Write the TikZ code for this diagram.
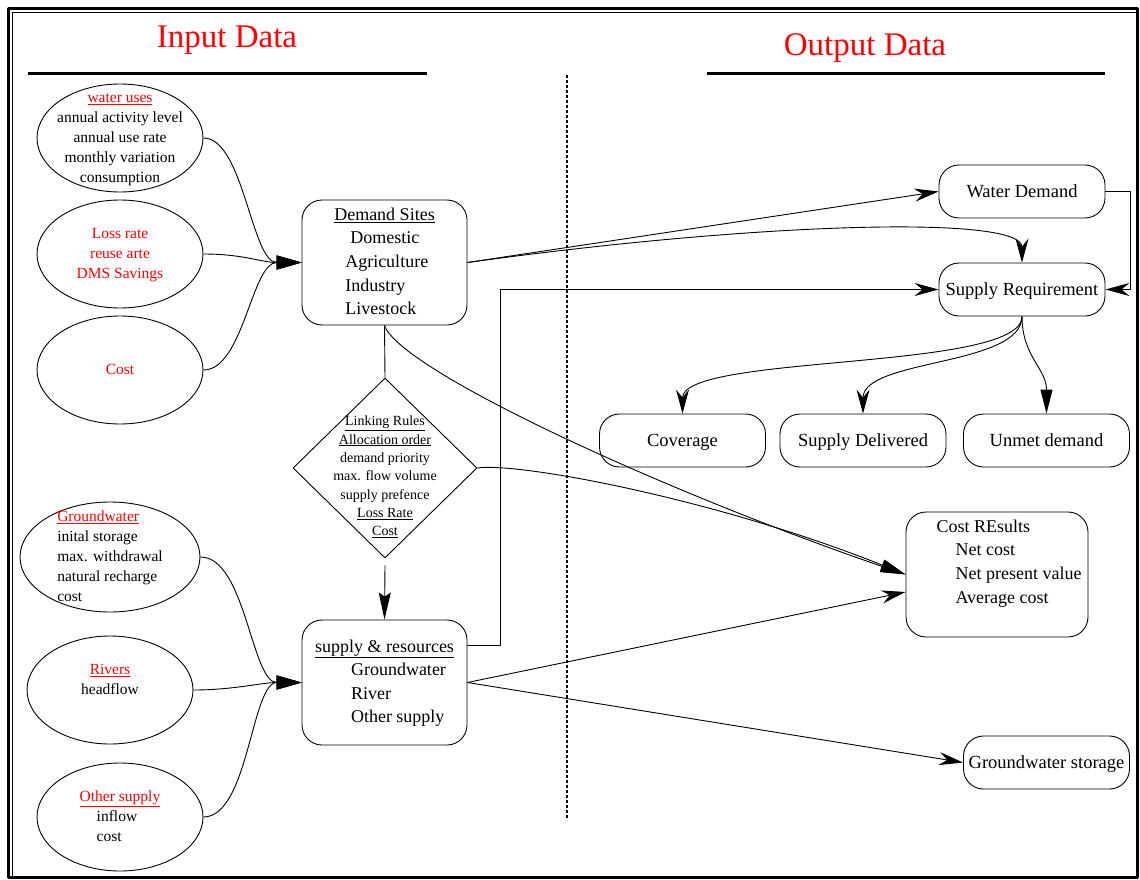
\documentclass[tikz,border=0pt]{standalone}
\usepackage{fontspec}
\setmainfont{Liberation Serif}
\usetikzlibrary{arrows.meta}
\usetikzlibrary{shapes.geometric}

% text that may run over the outline of its shape
\newcommand{\celltext}[2][c]{\smash{\raisebox{-.25em}{\makebox[0pt]{\begin{tabular}{@{}#1@{}}#2\end{tabular}}}}}

\tikzset{
  oval/.style={draw, ellipse, minimum width=166pt, minimum height=108pt, inner sep=0pt, font=\fontsize{15.5}{20}\selectfont},
  sitebox/.style={draw, rounded corners=20pt, minimum width=165pt, minimum height=125pt, inner sep=0pt, font=\fontsize{18}{23.6}\selectfont},
  outbox/.style={draw, rounded corners=20pt, minimum width=166pt, minimum height=53pt, inner sep=0pt, text height=15pt, text depth=3pt, font=\fontsize{18.5}{22}\selectfont},
  rulebox/.style={draw, diamond, minimum width=184pt, minimum height=180pt, inner sep=0pt, font=\fontsize{14}{18.3}\selectfont},
  hdr/.style={text=red, font=\fontsize{33}{36}\selectfont},
  feed/.style={-{Triangle[length=25pt,width=14pt]}},
  flow/.style={-{Stealth[length=24pt,width=13pt,inset=8pt]}},
}

\begin{document}
\begin{tikzpicture}[x=1pt,y=-1pt,line width=0.9pt,line join=round]
            \useasboundingbox (0,0) rectangle (1140,880);

            % frame
            \draw [line width=3pt] (8.5,8.5) rectangle (1137.5,877.5);
            \draw [line width=1pt] (12.5,876) -- (12.5,12.5) -- (1136,12.5);

            % headings
            \node [hdr] (intitle) at (227,40) {Input Data};
            \node [hdr] (outtitle) at (865,48) {Output Data};
            \draw [line width=3pt] (28,74) -- (427,74);
            \draw [line width=3pt] (707,74) -- (1105,74);
            \draw [line width=1.5pt, dash pattern=on 3pt off 2pt] (567,75) -- (567,820);

            % input data
            \node [oval] (wuse) at (120,138) {\celltext{\textcolor{red}{\underline{water uses}}\\ annual activity level\\ annual use rate\\ monthly variation\\ consumption}};
            \node [oval] (loss) at (120,254) {\celltext{\textcolor{red}{Loss rate}\\ \textcolor{red}{reuse arte}\\ \textcolor{red}{DMS Savings}}};
            \node [oval] (cost) at (120,370) {\celltext{\textcolor{red}{Cost}}};
            \node [oval, minimum width=180pt, minimum height=110pt] (gw) at (110,557) {\celltext[l]{\textcolor{red}{\underline{Groundwater}}\\ inital storage\\ max. withdrawal\\ natural recharge\\ cost}};
            \node [oval] (riv) at (110,690) {\celltext{\textcolor{red}{\underline{Rivers}}\\ headflow\\ {}}};
            \node [oval] (oth) at (120,817) {\celltext[l]{\textcolor{red}{\underline{Other supply}}\\ \hspace*{17pt}inflow\\ \hspace*{17pt}cost}};

            \node [sitebox] (demand) at (384.5,262.5) {\celltext[l]{\underline{Demand Sites}\\ \hspace*{16pt}Domestic\\ \hspace*{11pt}Agriculture\\ \hspace*{11pt}Industry\\ \hspace*{11pt}Livestock}};
            \node [rulebox] (rules) at (385,468) {\celltext{\mbox{}\\ \underline{Linking Rules}\\ \underline{Allocation order}\\ demand priority\\ max. flow volume\\ supply prefence\\ \underline{Loss Rate}\\ \underline{Cost}}};
            \node [sitebox] (supply) at (384.5,682.5) {\celltext[l]{\underline{supply \& resources}\\ \hspace*{36pt}Groundwater\\ \hspace*{36pt}River\\ \hspace*{36pt}Other supply}};

            % output data
            \node [outbox] (wdem) at (1022,191.5) {Water Demand};
            \node [outbox] (sreq) at (1022,289.5) {Supply Requirement};
            \node [outbox] (cov) at (682.5,440.5) {Coverage};
            \node [outbox] (sdel) at (863,440.5) {Supply Delivered};
            \node [outbox] (unmet) at (1046.5,440.5) {Unmet demand};
            \node [sitebox, minimum width=182pt] (costres) at (997,574.5) {\celltext[l]{\hspace*{24pt}Cost REsults\\ \hspace*{43pt}Net cost\\ \hspace*{43pt}Net present value\\ \hspace*{43pt}Average cost\\ {}}};
            \node [outbox] (gws) at (1046.5,762.5) {Groundwater storage};

            % inputs into the sites
            \draw [feed] (wuse.east) .. controls +(40,0) and +(-50,0) .. (demand.west);
            \draw [feed] (loss.east) .. controls +(40,0) and +(-40,0) .. (demand.west);
            \draw [feed] (cost.east) .. controls +(40,0) and +(-50,0) .. (demand.west);
            \draw [feed] (gw.east) .. controls +(45,0) and +(-50,0) .. (supply.west);
            \draw [feed] (riv.east) .. controls +(40,0) and +(-40,0) .. (supply.west);
            \draw [feed] (oth.east) .. controls +(45,0) and +(-50,0) .. (supply.west);

            \draw (demand.south) -- (rules.north);
            \draw [-{Stealth[length=27pt,width=12pt,inset=4pt]}] ([yshift=-7pt]rules.south) -- (supply.north);

            % results
            \draw [flow] (demand.east) -- (wdem.west);
            \draw [flow] (demand.east) .. controls (760,222) and (1022,215) .. (sreq.north);
            \draw [flow] ([yshift=37pt]supply.east) -- ++(33,0) |- (sreq.west);
            \draw [flow] (wdem.east) -- ++(25,0) |- (sreq.east);
            \draw [flow] (sreq.south) .. controls +(0,55) and +(0,-60) .. (cov.north);
            \draw [flow] (sreq.south) .. controls +(0,50) and +(0,-55) .. (sdel.north);
            \draw [-{Triangle[length=24pt,width=12pt]}] (sreq.south) .. controls +(0,40) and +(0,-45) .. (unmet.north);
            \draw [-{Triangle[length=25pt,width=12pt]}] (demand.south) .. controls (400,370) and (660,490) .. (costres.west);
            \draw [-{Triangle[length=25pt,width=12pt]}] (rules.east) .. controls (520,462) and (720,500) .. (costres.west);
            \draw [flow] (supply.east) -- ([yshift=-17.5pt]costres.west);
            \draw [flow] (supply.east) -- (gws.west);
        \end{tikzpicture}
\end{document}
